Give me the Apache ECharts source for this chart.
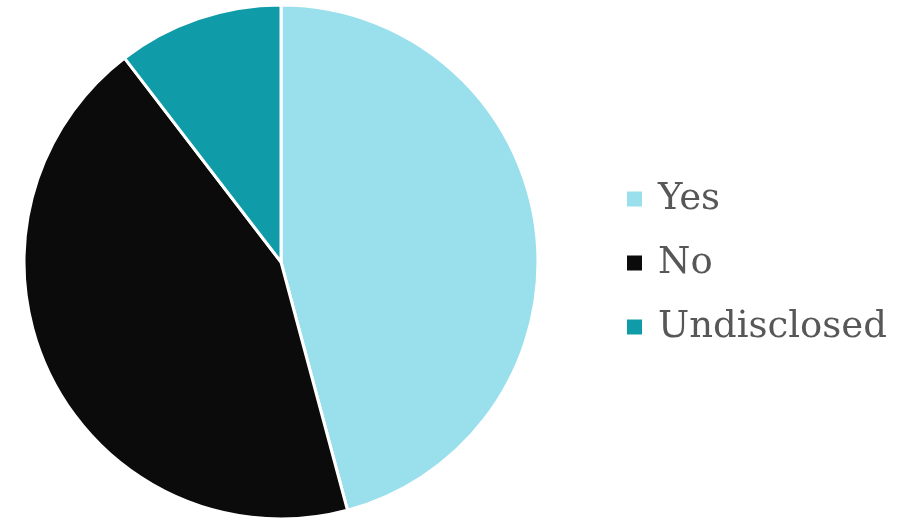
<!DOCTYPE html>
<html>
<head>
<meta charset="utf-8">
<script src="https://cdn.jsdelivr.net/npm/echarts@6/dist/echarts.min.js"></script>
<style>
  html, body { margin: 0; padding: 0; background: #ffffff; }
  #chart { width: 910px; height: 522px; }
</style>
</head>
<body>
<div id="chart"></div>
<script>
// Survey answers
const categories = ['Yes', 'No', 'Undisclosed'];
const counts = [22, 21, 5];
const colors = ['#9adfec', '#0b0b0b', '#0f9ba8'];

const chart = echarts.init(document.getElementById('chart'), null, { renderer: 'canvas' });

chart.setOption({
  backgroundColor: '#ffffff',
  animation: false,
  color: colors,
  legend: {
    orient: 'vertical',
    left: 627,
    top: 179,
    padding: 0,
    icon: 'rect',
    itemWidth: 15,
    itemHeight: 15,
    itemGap: 24,
    itemStyle: { borderWidth: 0 },
    data: categories,
    textStyle: {
      fontFamily: 'DejaVu Serif',
      fontSize: 37,
      lineHeight: 40,
      color: '#575757',
      padding: [0, 0, 0, 11]
    }
  },
  series: [{
    type: 'pie',
    center: [281, 262],
    radius: 257,
    startAngle: 90,
    clockwise: true,
    label: { show: false },
    labelLine: { show: false },
    itemStyle: { borderColor: '#ffffff', borderWidth: 3 },
    emphasis: { disabled: true },
    data: categories.map((name, i) => ({ name, value: counts[i] }))
  }]
});
</script>
</body>
</html>
